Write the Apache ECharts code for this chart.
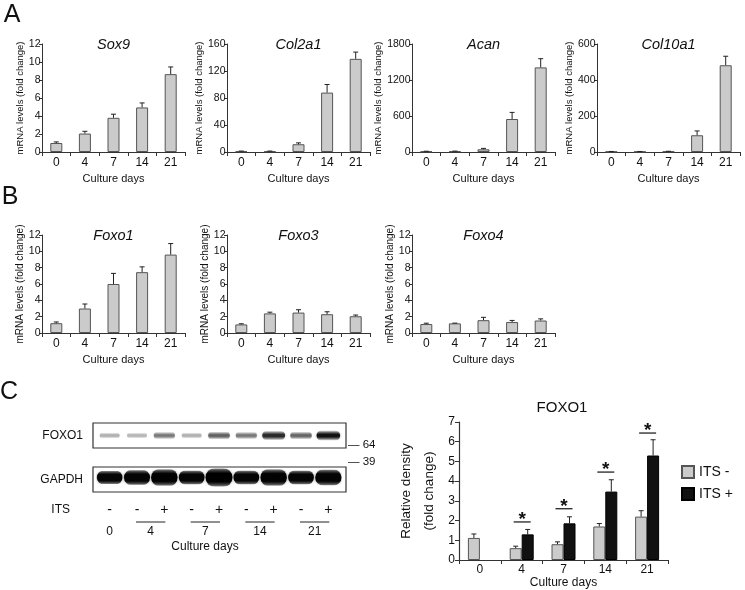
<!DOCTYPE html>
<html><head><meta charset="utf-8">
<script src="https://cdn.jsdelivr.net/npm/echarts@6/dist/echarts.min.js"></script>
<style>html,body{margin:0;padding:0;background:#fff}#c{width:745px;height:590px}</style>
</head><body><div id="c"></div>
<script>
// ---------- Data ----------
const days = ['0', '4', '7', '14', '21'];

const genesA = ['Sox9', 'Col2a1', 'Acan', 'Col10a1'];
const yMaxA = [12, 160, 1800, 600];
const yStepA = [2, 40, 600, 200];
const sox9 = [1.0, 2.05, 3.8, 4.95, 8.65];
const sox9Err = [0.12, 0.25, 0.4, 0.5, 0.8];
const col2a1 = [1, 1, 11.5, 88, 138];
const col2a1Err = [0.4, 0.4, 2, 12, 10];
const acan = [10, 12, 45, 550, 1410];
const acanErr = [3, 3, 15, 110, 145];
const col10a1 = [2, 2, 3, 93, 482];
const col10a1Err = [1, 1, 1, 24, 50];

const genesB = ['Foxo1', 'Foxo3', 'Foxo4'];
const yMaxB = [12, 12, 12];
const yStepB = [2, 2, 2];
const foxo1 = [1.2, 3.0, 6.0, 7.45, 9.6];
const foxo1Err = [0.15, 0.55, 1.3, 0.65, 1.35];
const foxo3 = [1.05, 2.4, 2.5, 2.3, 2.05];
const foxo3Err = [0.08, 0.15, 0.35, 0.3, 0.15];
const foxo4 = [1.1, 1.18, 1.57, 1.34, 1.53];
const foxo4Err = [0.1, 0.03, 0.35, 0.2, 0.2];

// Western blot (panel C, left)
const laneITS = ['-', '-', '+', '-', '+', '-', '+', '-', '+'];
const laneGroupLabel = ['0', '4', '7', '14', '21'];
const laneGroupFirst = [0, 1, 3, 5, 7];
const laneGroupLast = [0, 2, 4, 6, 8];
const foxo1Band = [0.2, 0.18, 0.42, 0.2, 0.52, 0.42, 0.78, 0.5, 0.92];
const gapdhBand = [0.55, 0.7, 0.85, 0.6, 1.0, 0.6, 0.85, 0.6, 0.78];

// Densitometry (panel C, right)
const itsMinus = [1.12, 0.6, 0.8, 1.7, 2.2];
const itsMinusErr = [0.2, 0.1, 0.12, 0.15, 0.3];
const itsPlus = [null, 1.3, 1.86, 3.47, 5.3];
const itsPlusErr = [null, 0.25, 0.33, 0.6, 0.8];
const sigLine = [null, 1.93, 2.6, 4.46, 6.44];

// ---------- Build ----------
const FONT = "'Liberation Sans', Arial, Helvetica, sans-serif";
const NARROW = "'Liberation Sans Narrow', 'Liberation Sans', Arial, sans-serif";
const AX = '#333';
const grid = [], xAxis = [], yAxis = [], series = [], graphic = [];

function errRender(offset) {
  return function (params, api) {
    const v = api.value(1), e = api.value(2);
    if (v == null || isNaN(v) || e == null || isNaN(e)) return;
    const p0 = api.coord([api.value(0), v]);
    const p1 = api.coord([api.value(0), v + e]);
    const cx = p0[0] + offset;
    return { type: 'group', children: [
      { type: 'line', shape: { x1: cx, y1: p0[1], x2: cx, y2: p1[1] }, style: { stroke: '#222', lineWidth: 1 } },
      { type: 'line', shape: { x1: cx - 2.5, y1: p1[1], x2: cx + 2.5, y2: p1[1] }, style: { stroke: '#222', lineWidth: 1 } }
    ]};
  };
}

function addPanel(left, top, height, title, vals, errs, max, step, nameSize) {
  const gi = grid.length;
  grid.push({ left, top, width: 143, height, outerBoundsMode: 'none', containLabel: false });
  xAxis.push({
    type: 'category', gridIndex: gi, data: days,
    axisLine: { lineStyle: { color: AX, width: 1 } },
    axisTick: { show: true, length: 4, lineStyle: { color: AX } },
    axisLabel: { fontSize: 12, color: '#111', margin: 5, fontFamily: FONT },
    name: 'Culture days', nameLocation: 'middle', nameGap: 21,
    nameTextStyle: { fontSize: 11, color: '#111', fontFamily: FONT }
  });
  yAxis.push({
    type: 'value', gridIndex: gi, min: 0, max, interval: step,
    axisLine: { show: true, lineStyle: { color: AX, width: 1 } },
    axisTick: { show: true, length: 3, lineStyle: { color: AX } },
    splitLine: { show: false },
    axisLabel: { fontSize: 10.5, color: '#111', margin: 1.5, fontFamily: NARROW, formatter: v => String(v) },
    name: 'mRNA levels (fold change)', nameLocation: 'middle', nameRotate: 90, nameGap: 15,
    nameTextStyle: { fontSize: nameSize, color: '#111', fontFamily: FONT }
  });
  series.push({
    type: 'bar', xAxisIndex: gi, yAxisIndex: gi, data: vals, barWidth: 12, silent: true,
    itemStyle: { color: '#cbcbcb', borderColor: '#555', borderWidth: 1 }
  });
  series.push({
    type: 'custom', xAxisIndex: gi, yAxisIndex: gi, z: 4, silent: true,
    data: vals.map((v, i) => [i, v, errs[i]]), renderItem: errRender(0)
  });
  graphic.push({ type: 'text', x: left + 71.5, y: top + 1, silent: true,
    style: { text: title, fontSize: 14.5, fontStyle: 'italic', fontFamily: FONT, fill: '#111',
      align: 'center', verticalAlign: 'middle', textAlign: 'center', textVerticalAlign: 'middle' } });
}

const aVals = [sox9, col2a1, acan, col10a1];
const aErrs = [sox9Err, col2a1Err, acanErr, col10a1Err];
genesA.forEach((g, i) => addPanel(42 + 185 * i, 44, 108, g, aVals[i], aErrs[i], yMaxA[i], yStepA[i], 9.5));
const bVals = [foxo1, foxo3, foxo4];
const bErrs = [foxo1Err, foxo3Err, foxo4Err];
genesB.forEach((g, i) => addPanel(42 + 185 * i, 235, 98, g, bVals[i], bErrs[i], yMaxB[i], yStepB[i], 10));

// ---- Blot rows ----
function bandRender(kind) {
  return function (params, api) {
    const v = api.value(1);
    const x = api.coord([api.value(0), 0])[0];
    const cs = params.coordSys;
    let h, w, a, cy, core;
    if (kind === 'foxo') {
      h = 5 + 6 * v; w = 19 + 5 * v; a = 0.12 + 0.85 * v; cy = cs.y + cs.height * 0.5; core = 0.1;
    } else {
      h = 8 + 11 * v; w = 24 + 3 * v; a = 0.92 + 0.08 * v; cy = cs.y + cs.height * 0.42; core = 0.22;
    }
    const c0 = 'rgba(0,0,0,0)';
    const c1 = 'rgba(0,0,0,' + (a * 0.55).toFixed(3) + ')';
    const c2 = 'rgba(0,0,0,' + a.toFixed(3) + ')';
    const grad = new echarts.graphic.LinearGradient(0, 0, 0, 1, [
      { offset: 0, color: c0 }, { offset: 0.5 - core - 0.2, color: c1 }, { offset: 0.5 - core, color: c2 },
      { offset: 0.5 + core, color: c2 }, { offset: 0.5 + core + 0.2, color: c1 }, { offset: 1, color: c0 }
    ]);
    return { type: 'rect', shape: { x: x - w / 2, y: cy - h / 2, width: w, height: h, r: h / 2 },
      style: { fill: grad, shadowBlur: 3, shadowColor: 'rgba(0,0,0,' + (a * 0.4).toFixed(3) + ')' } };
  };
}
function addBlotRow(top, bands, kind, showLabels) {
  const gi = grid.length;
  grid.push({ left: 96, top, width: 246, height: 25, outerBoundsMode: 'none', containLabel: false });
  xAxis.push({
    type: 'category', gridIndex: gi, data: laneITS,
    axisLine: { show: false }, axisTick: { show: false },
    axisLabel: { show: showLabels, fontSize: 14, color: '#111', margin: 11, fontFamily: FONT }
  });
  yAxis.push({ type: 'value', gridIndex: gi, min: 0, max: 1, show: false });
  series.push({ type: 'custom', xAxisIndex: gi, yAxisIndex: gi, silent: true, clip: true,
    data: bands.map((v, i) => [i, v]), renderItem: bandRender(kind) });
  return gi;
}
addBlotRow(423, foxo1Band, 'foxo', false);
const gapGi = addBlotRow(467, gapdhBand, 'gapdh', true);
series.push({
  type: 'custom', xAxisIndex: gapGi, yAxisIndex: gapGi, silent: true, clip: false,
  data: laneGroupFirst.map((f, i) => [f, laneGroupLast[i]]),
  renderItem: function (params, api) {
    const x1 = api.coord([api.value(0), 0])[0];
    const x2 = api.coord([api.value(1), 0])[0];
    const bottom = params.coordSys.y + params.coordSys.height;
    const ch = [{ type: 'text', x: (x1 + x2) / 2, y: bottom + 40,
      style: { text: laneGroupLabel[params.dataIndex], fontSize: 12, fontFamily: FONT, fill: '#111',
        align: 'center', verticalAlign: 'middle', textAlign: 'center', textVerticalAlign: 'middle' } }];
    if (x2 > x1) ch.push({ type: 'line', shape: { x1: x1 - 1, y1: bottom + 30, x2: x2 + 1, y2: bottom + 30 },
      style: { stroke: '#222', lineWidth: 1 } });
    return { type: 'group', children: ch };
  }
});

// ---- Densitometry ----
const dGi = grid.length;
grid.push({ left: 459, top: 422, width: 209, height: 138, outerBoundsMode: 'none', containLabel: false });
xAxis.push({
  type: 'category', gridIndex: dGi, data: days,
  axisLine: { lineStyle: { color: AX, width: 1.2 } },
  axisTick: { show: true, length: 4, lineStyle: { color: AX } },
  axisLabel: { fontSize: 12, color: '#111', margin: 4, fontFamily: FONT },
  name: 'Culture days', nameLocation: 'middle', nameGap: 17,
  nameTextStyle: { fontSize: 12, color: '#111', fontFamily: FONT }
});
yAxis.push({
  type: 'value', gridIndex: dGi, min: 0, max: 7, interval: 1,
  axisLine: { show: true, lineStyle: { color: AX, width: 1.2 } },
  axisTick: { show: true, length: 4, lineStyle: { color: AX } },
  splitLine: { show: false },
  axisLabel: { fontSize: 12, color: '#111', margin: 4, fontFamily: FONT },
  name: 'Relative density\n(fold change)', nameLocation: 'middle', nameRotate: 90, nameGap: 18,
  nameTextStyle: { fontSize: 13.5, lineHeight: 23, color: '#111', fontFamily: FONT }
});
series.push({ name: 'ITS -', type: 'bar', xAxisIndex: dGi, yAxisIndex: dGi, data: itsMinus,
  barWidth: 12, barGap: '0%', silent: true,
  itemStyle: { color: '#cbcbcb', borderColor: '#555', borderWidth: 1 } });
series.push({ name: 'ITS +', type: 'bar', xAxisIndex: dGi, yAxisIndex: dGi, data: itsPlus,
  barWidth: 12, barGap: '0%', silent: true,
  itemStyle: { color: '#111', borderColor: '#000', borderWidth: 1 } });
series.push({ type: 'custom', xAxisIndex: dGi, yAxisIndex: dGi, z: 4, silent: true,
  data: itsMinus.map((v, i) => [i, v, itsMinusErr[i]]), renderItem: errRender(-6) });
series.push({ type: 'custom', xAxisIndex: dGi, yAxisIndex: dGi, z: 4, silent: true,
  data: itsPlus.map((v, i) => [i, v, itsPlusErr[i]]), renderItem: errRender(6) });
series.push({ type: 'custom', xAxisIndex: dGi, yAxisIndex: dGi, z: 4, silent: true, clip: false,
  data: sigLine.map((v, i) => [i, v]),
  renderItem: function (params, api) {
    const v = api.value(1);
    if (v == null || isNaN(v)) return;
    const p = api.coord([api.value(0), v]);
    return { type: 'group', children: [
      { type: 'line', shape: { x1: p[0] - 8, y1: p[1], x2: p[0] + 9, y2: p[1] }, style: { stroke: '#111', lineWidth: 1.2 } },
      { type: 'text', x: p[0] + 0.5, y: p[1] - 2,
        style: { text: '*', fontSize: 19, fontWeight: 'bold', fontFamily: FONT, fill: '#111',
          align: 'center', verticalAlign: 'middle', textAlign: 'center', textVerticalAlign: 'middle' } }
    ]};
  }
});

// ---- Static text & frames ----
function txt(x, y, text, size, extra) {
  graphic.push(Object.assign({ type: 'text', x, y, silent: true,
    style: Object.assign({ text, fontSize: size, fontFamily: FONT, fill: '#111',
      align: 'center', verticalAlign: 'middle', textAlign: 'center', textVerticalAlign: 'middle' }, extra || {}) }));
}
txt(12, 15, 'A', 25);
txt(10, 197, 'B', 25);
txt(9, 392, 'C', 25);
txt(83, 436, 'FOXO1', 12, { align: 'right', textAlign: 'right' });
txt(83, 480, 'GAPDH', 12, { align: 'right', textAlign: 'right' });
txt(70, 510, 'ITS', 12, { align: 'right', textAlign: 'right' });
txt(205, 547, 'Culture days', 12);
txt(348, 445, '— 64', 11.5, { align: 'left', textAlign: 'left' });
txt(348, 462, '— 39', 11.5, { align: 'left', textAlign: 'left' });
txt(562, 408, 'FOXO1', 15);
graphic.push({ type: 'rect', silent: true, shape: { x: 93, y: 423, width: 253, height: 25 },
  style: { fill: 'none', stroke: '#333', lineWidth: 1.2 } });
graphic.push({ type: 'rect', silent: true, shape: { x: 93, y: 467, width: 253, height: 25 },
  style: { fill: 'none', stroke: '#333', lineWidth: 1.2 } });

const chart = echarts.init(document.getElementById('c'), null, { renderer: 'canvas' });
chart.setOption({
  backgroundColor: '#fff',
  animation: false,
  textStyle: { fontFamily: FONT },
  grid, xAxis, yAxis, series, graphic,
  legend: {
    data: ['ITS -', 'ITS +'], orient: 'vertical', left: 681, top: 465,
    itemWidth: 12, itemHeight: 12, itemGap: 8, icon: 'rect', selectedMode: false,
    textStyle: { fontSize: 14, color: '#111', fontFamily: FONT }, padding: 0
  }
});
</script>
</body></html>
